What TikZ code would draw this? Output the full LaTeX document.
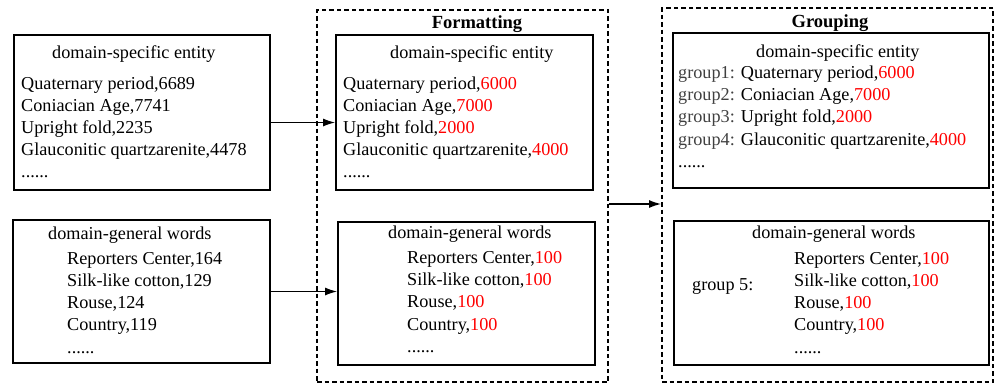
\documentclass[tikz,border=0pt]{standalone}
\usepackage{fontspec}
\setmainfont{Liberation Serif}
\usepackage{xcolor}
\usetikzlibrary{arrows.meta}
\definecolor{grouptext}{gray}{0.25}
\newcommand{\nval}[1]{\textcolor{red}{#1}}
\newcommand{\gname}[1]{\textcolor{grouptext}{#1}}

\begin{document}
\begin{tikzpicture}[x=1pt,y=-1pt,
  box/.style={draw, line width=1.8pt, inner sep=0pt},
  dashbox/.style={draw, line width=1.9pt, dash pattern=on 4.5pt off 3pt, inner sep=0pt},
  txt/.style={anchor=base west, inner sep=0pt, font=\fontsize{18.2}{22}\selectfont},
  head/.style={anchor=base, inner sep=0pt, font=\fontsize{18.5}{22}\selectfont\bfseries},
  link/.style={-{Latex[length=12pt,width=8pt]}, line width=1.3pt}]
  \useasboundingbox (0,0) rectangle (997,383);
  % input boxes
  \node[box, minimum width=256pt, minimum height=155pt] (l1) at (142,112.5) {};
  \node[box, minimum width=257pt, minimum height=143pt] (l2) at (141.5,291.5) {};
  \node[txt] (l1t) at (52,58) {domain-specific entity};
  \node[txt] (l1a) at (21,89) {Quaternary period,6689};
  \node[txt] (l1b) at (21,111) {Coniacian Age,7741};
  \node[txt] (l1c) at (21,133) {Upright fold,2235};
  \node[txt] (l1d) at (21,155) {Glauconitic quartzarenite,4478};
  \node[txt] (l1e) at (21,177) {......};
  \node[txt] (l2t) at (48,239) {domain-general words};
  \node[txt] (l2a) at (67,264) {Reporters Center,164};
  \node[txt] (l2b) at (67,286) {Silk-like cotton,129};
  \node[txt] (l2c) at (67,308) {Rouse,124};
  \node[txt] (l2d) at (67,330) {Country,119};
  \node[txt] (l2e) at (67,353) {......};
  % formatting
  \node[dashbox, minimum width=291pt, minimum height=372pt] (fd) at (462.5,196) {};
  \node[head] (fh) at (477,28) {Formatting};
  \node[box, minimum width=257pt, minimum height=155pt] (f1) at (464.5,112.5) {};
  \node[box, minimum width=257pt, minimum height=143pt] (f2) at (466.5,293.5) {};
  \node[txt] (f1t) at (390,58) {domain-specific entity};
  \node[txt] (f1a) at (343,89) {Quaternary period,\nval{6000}};
  \node[txt] (f1b) at (343,111) {Coniacian Age,\nval{7000}};
  \node[txt] (f1c) at (343,133) {Upright fold,\nval{2000}};
  \node[txt] (f1d) at (343,155) {Glauconitic quartzarenite,\nval{4000}};
  \node[txt] (f1e) at (343,177) {......};
  \node[txt] (f2t) at (388,238) {domain-general words};
  \node[txt] (f2a) at (407,263) {Reporters Center,\nval{100}};
  \node[txt] (f2b) at (407,285) {Silk-like cotton,\nval{100}};
  \node[txt] (f2c) at (407,307) {Rouse,\nval{100}};
  \node[txt] (f2d) at (407,330) {Country,\nval{100}};
  \node[txt] (f2e) at (407,352) {......};
  % grouping
  \node[dashbox, minimum width=331pt, minimum height=374pt] (gd) at (827.5,195) {};
  \node[head] (gh) at (830,27) {Grouping};
  \node[box, minimum width=316pt, minimum height=155pt] (g1) at (831,110.5) {};
  \node[box, minimum width=315pt, minimum height=144pt] (g2) at (831.5,293) {};
  \node[txt] (g1t) at (756,57) {domain-specific entity};
  \node[txt] (g1a) at (678,78) {\gname{group1:} Quaternary period,\nval{6000}};
  \node[txt] (g1b) at (678,100) {\gname{group2:} Coniacian Age,\nval{7000}};
  \node[txt] (g1c) at (678,122) {\gname{group3:} Upright fold,\nval{2000}};
  \node[txt] (g1d) at (678,145) {\gname{group4:} Glauconitic quartzarenite,\nval{4000}};
  \node[txt] (g1e) at (678,167) {......};
  \node[txt] (g2t) at (752,238) {domain-general words};
  \node[txt] (g2g) at (692,290) {group 5:};
  \node[txt] (g2a) at (794,264) {Reporters Center,\nval{100}};
  \node[txt] (g2b) at (794,286) {Silk-like cotton,\nval{100}};
  \node[txt] (g2c) at (794,308) {Rouse,\nval{100}};
  \node[txt] (g2d) at (794,330) {Country,\nval{100}};
  \node[txt] (g2e) at (794,353) {......};
  % arrows
  \draw[link] ([yshift=-10pt]l1.east) -- ([yshift=-10pt]f1.west);
  \draw[link] (l2.east) -- (l2.east -| f2.west);
  \draw[link] ([yshift=-8pt]fd.east) -- ([yshift=-9pt]gd.west);
\end{tikzpicture}
\end{document}
